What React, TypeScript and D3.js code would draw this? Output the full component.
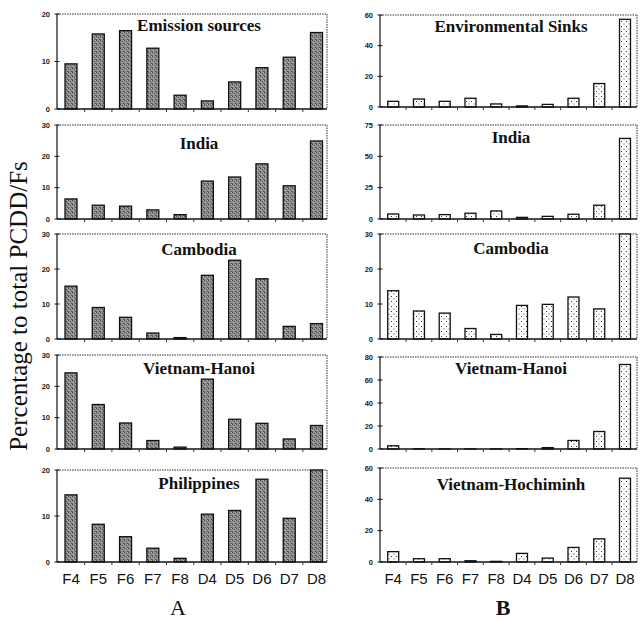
import React from "react";
import * as d3 from "d3";

const categories = ["F4", "F5", "F6", "F7", "F8", "D4", "D5", "D6", "D7", "D8"];

const leftTitles = ["Emission sources", "India", "Cambodia", "Vietnam-Hanoi", "Philippines"];
const rightTitles = ["Environmental Sinks", "India", "Cambodia", "Vietnam-Hanoi", "Vietnam-Hochiminh"];

const emissionSources = [9.5, 15.8, 16.5, 12.8, 2.9, 1.7, 5.7, 8.7, 10.9, 16.1];
const indiaA = [6.4, 4.4, 4.1, 2.9, 1.4, 12.1, 13.4, 17.6, 10.6, 24.9];
const cambodiaA = [15.1, 9.0, 6.2, 1.7, 0.4, 18.2, 22.5, 17.2, 3.6, 4.4];
const hanoiA = [24.3, 14.2, 8.3, 2.7, 0.6, 22.3, 9.5, 8.2, 3.2, 7.5];
const philippinesA = [14.6, 8.2, 5.5, 3.0, 0.8, 10.4, 11.2, 18.0, 9.5, 21];

const environmentalSinks = [3.7, 5.2, 3.7, 5.7, 2.0, 0.7, 1.7, 5.7, 15.3, 57.2];
const indiaB = [4.0, 3.2, 3.5, 4.6, 6.4, 1.3, 2.1, 3.8, 11.0, 64.3];
const cambodiaB = [13.8, 8.0, 7.4, 3.0, 1.3, 9.6, 9.9, 12.0, 8.6, 34];
const hanoiB = [2.8, 0.2, 0.1, 0.1, 0.1, 0.3, 1.2, 7.4, 15.2, 73.5];
const hochiminhB = [6.6, 2.1, 2.1, 0.8, 0.4, 5.5, 2.5, 9.3, 14.8, 53.5];

const leftSeries = [emissionSources, indiaA, cambodiaA, hanoiA, philippinesA];
const rightSeries = [environmentalSinks, indiaB, cambodiaB, hanoiB, hochiminhB];

const leftMax = [20, 30, 30, 30, 20];
const leftStep = [10, 10, 10, 10, 10];
const rightMax = [60, 75, 30, 80, 60];
const rightStep = [20, 25, 10, 20, 20];

// layout
const leftRows = [[14, 109], [125, 219], [234, 339], [355, 449], [470, 562]];
const rightRows = [[15, 107], [125, 219], [234, 339], [357, 449], [468, 562]];
const leftTitleDy = [17, 24, 21, 19, 19];
const rightTitleDy = [17, 18, 20, 17, 22];

type PanelProps = {
  axisX: number;
  frameRight: number;
  c0: number;
  c1: number;
  top: number;
  bottom: number;
  max: number;
  step: number;
  values: number[];
  title: string;
  titleX: number;
  titleDy: number;
  barW: number;
  fill: string;
};

function Panel(p: PanelProps) {
  const y = d3.scaleLinear().domain([0, p.max]).range([p.bottom, p.top]);
  const x = d3.scalePoint<string>().domain(categories).range([p.c0, p.c1]);
  const ticks = d3.range(0, p.max + 0.001, p.step);
  const stepPx = x.step();
  return (
    <g>
      <line x1={p.axisX} x2={p.frameRight} y1={p.top} y2={p.top} stroke="#333" strokeWidth={1} strokeDasharray="1.5 1" />
      <line x1={p.frameRight} x2={p.frameRight} y1={p.top} y2={p.bottom} stroke="#333" strokeWidth={1} strokeDasharray="1.5 1" />
      {p.values.map((v, i) => {
        const c = categories[i];
        const yv = y(Math.min(v, p.max));
        return (
          <rect
            key={c}
            x={(x(c) as number) - p.barW / 2}
            y={yv}
            width={p.barW}
            height={Math.max(0, p.bottom - yv)}
            fill={p.fill}
            stroke="#111"
            strokeWidth={1.3}
          />
        );
      })}
      <line x1={p.axisX} x2={p.axisX} y1={p.top} y2={p.bottom} stroke="#111" strokeWidth={1.2} />
      {ticks.map((t) => (
        <g key={t}>
          <line x1={p.axisX - 2.5} x2={p.axisX + 2.5} y1={y(t)} y2={y(t)} stroke="#111" strokeWidth={1} />
          <text
            x={p.axisX - 7}
            y={y(t)}
            dy="0.35em"
            textAnchor="end"
            fontSize={7.5}
            fontWeight="bold"
            fontFamily="Liberation Sans, Arial, sans-serif"
            fill="#222"
          >
            {t}
          </text>
        </g>
      ))}
      <line x1={p.axisX} x2={p.frameRight} y1={p.bottom} y2={p.bottom} stroke="#111" strokeWidth={1.5} />
      {categories.slice(0, -1).map((c) => (
        <line
          key={c}
          x1={(x(c) as number) + stepPx / 2}
          x2={(x(c) as number) + stepPx / 2}
          y1={p.bottom}
          y2={p.bottom + 3}
          stroke="#333"
          strokeWidth={1}
        />
      ))}
      <text
        x={p.titleX}
        y={p.top + p.titleDy}
        textAnchor="middle"
        fontSize={17}
        fontWeight="bold"
        fontFamily="Liberation Serif, Times New Roman, serif"
        fill="#111"
      >
        {p.title}
      </text>
    </g>
  );
}

export default function App() {
  const xl = d3.scalePoint<string>().domain(categories).range([71, 316.5]);
  const xr = d3.scalePoint<string>().domain(categories).range([393.2, 625]);
  return (
    <svg width={640} height={621} style={{ position: "absolute", left: 0, top: 0, background: "#fff" }}>
      <defs>
        <pattern id="grayTex" width={4} height={4} patternUnits="userSpaceOnUse">
          <rect width={4} height={4} fill="#8e8e8e" />
          <rect x={0} y={0} width={1} height={1} fill="#4a4a4a" />
          <rect x={2} y={1} width={1} height={1} fill="#555" />
          <rect x={3} y={3} width={1} height={1} fill="#505050" />
          <rect x={1} y={2} width={1} height={1} fill="#b5b5b5" />
          <rect x={3} y={0} width={1} height={1} fill="#b0b0b0" />
          <rect x={0} y={3} width={1} height={1} fill="#666" />
        </pattern>
        <pattern id="dotTex" width={5} height={5} patternUnits="userSpaceOnUse">
          <rect width={5} height={5} fill="#fff" />
          <rect x={1} y={1} width={1} height={1} fill="#333" />
          <rect x={3.5} y={3.5} width={1} height={1} fill="#555" />
        </pattern>
      </defs>
      {leftSeries.map((vals, i) => (
        <Panel
          key={"l" + i}
          axisX={57}
          frameRight={327}
          c0={71}
          c1={316.5}
          top={leftRows[i][0]}
          bottom={leftRows[i][1]}
          max={leftMax[i]}
          step={leftStep[i]}
          values={vals}
          title={leftTitles[i]}
          titleX={199}
          titleDy={leftTitleDy[i]}
          barW={12}
          fill="url(#grayTex)"
        />
      ))}
      {rightSeries.map((vals, i) => (
        <Panel
          key={"r" + i}
          axisX={380}
          frameRight={637}
          c0={393.2}
          c1={625}
          top={rightRows[i][0]}
          bottom={rightRows[i][1]}
          max={rightMax[i]}
          step={rightStep[i]}
          values={vals}
          title={rightTitles[i]}
          titleX={511}
          titleDy={rightTitleDy[i]}
          barW={11}
          fill="url(#dotTex)"
        />
      ))}
      {categories.map((c) => (
        <g key={c}>
          <text x={xl(c)} y={584} textAnchor="middle" fontSize={15} fontFamily="Liberation Sans, Arial, sans-serif" fill="#111">
            {c}
          </text>
          <text x={xr(c)} y={584} textAnchor="middle" fontSize={15} fontFamily="Liberation Sans, Arial, sans-serif" fill="#111">
            {c}
          </text>
        </g>
      ))}
      <text x={178} y={615} textAnchor="middle" fontSize={22} fontFamily="Liberation Serif, Times New Roman, serif" fill="#111">
        A
      </text>
      <text x={503} y={615} textAnchor="middle" fontSize={22} fontWeight="bold" fontFamily="Liberation Serif, Times New Roman, serif" fill="#111">
        B
      </text>
      <text
        transform="translate(27,306) rotate(-90)"
        textAnchor="middle"
        fontSize={25}
        fontFamily="Liberation Serif, Times New Roman, serif"
        fill="#111"
      >
        Percentage to total PCDD/Fs
      </text>
    </svg>
  );
}
